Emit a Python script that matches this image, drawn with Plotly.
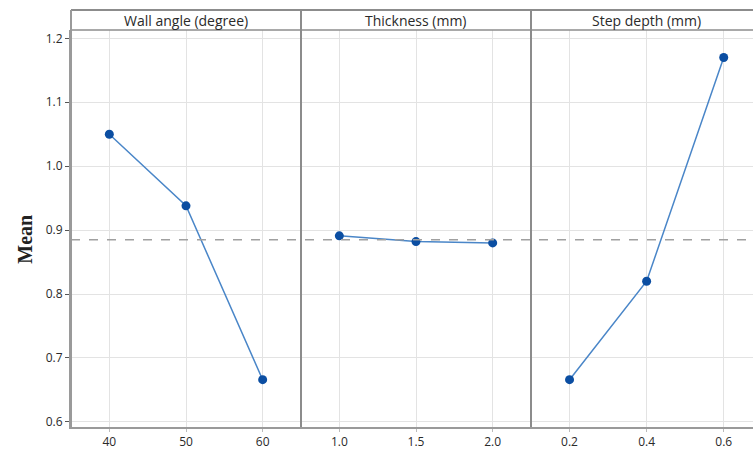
import plotly.graph_objects as go
from plotly.subplots import make_subplots

# Data
factors = ["Wall angle (degree)", "Thickness (mm)", "Step depth (mm)"]
wall_levels = [40, 50, 60]
wall_means = [1.050, 0.938, 0.666]
thick_levels = [1.0, 1.5, 2.0]
thick_means = [0.891, 0.882, 0.880]
step_levels = [0.2, 0.4, 0.6]
step_means = [0.666, 0.820, 1.170]
overall_mean = 0.885
y_ticks = [0.6, 0.7, 0.8, 0.9, 1.0, 1.1, 1.2]

levels = [wall_levels, thick_levels, step_levels]
means = [wall_means, thick_means, step_means]
x_ranges = [[35, 65], [0.75, 2.25], [0.1, 0.676]]
tick_fmt = ["d", ".1f", ".1f"]

W, H = 753, 452
ML, MR, MT, MB = 71, 0, 30, 25
plot_w = W - ML - MR
plot_h = H - MT - MB
b1 = 230 / plot_w
b2 = 460 / plot_w
YR = [0.592, 1.213]

fig = make_subplots(rows=1, cols=3, shared_yaxes=True, horizontal_spacing=0)

tick_font = dict(family="Open Sans, Noto Sans, sans-serif", size=12, color="#2a2a2a")
for i in range(3):
    fig.add_trace(go.Scatter(
        x=levels[i], y=means[i], mode="lines+markers",
        line=dict(color="#4a86c8", width=1.5),
        marker=dict(color="#0b4ea2", size=9),
        showlegend=False, hoverinfo="x+y"), row=1, col=i + 1)

domains = [[0, b1], [b1, b2], [b2, 1]]
for i in range(3):
    ax = "xaxis" if i == 0 else f"xaxis{i+1}"
    fig.layout[ax].update(
        domain=domains[i], range=x_ranges[i], tickvals=levels[i],
        tickformat=tick_fmt[i], showgrid=True, gridcolor="#e3e3e3", gridwidth=1,
        zeroline=False, showline=True, linecolor="#9a9a9a", linewidth=1.5,
        ticks="outside", ticklen=3, tickcolor="#bbbbbb", tickfont=tick_font,
        automargin=False)
    ay = "yaxis" if i == 0 else f"yaxis{i+1}"
    fig.layout[ay].update(
        range=YR, tickvals=y_ticks, tickformat=".1f",
        showgrid=True, gridcolor="#e3e3e3", gridwidth=1, zeroline=False,
        automargin=False)

fig.update_yaxes(showline=True, linecolor="#9a9a9a", linewidth=2,
                 ticks="outside", ticklen=4, tickcolor="#555555",
                 tickfont=tick_font, row=1, col=1)

hdr = 1 + 20 / plot_h
shapes = []
# mean reference line
shapes.append(dict(type="line", xref="paper", yref="y", x0=0, x1=1,
                   y0=overall_mean, y1=overall_mean,
                   line=dict(color="#a0a0a0", width=1.5, dash="dash")))
# header frame
shapes.append(dict(type="line", xref="paper", yref="paper", x0=0, x1=1, y0=1, y1=1,
                   line=dict(color="#8c8c8c", width=1.5)))
shapes.append(dict(type="line", xref="paper", yref="paper", x0=0, x1=1, y0=hdr, y1=hdr,
                   line=dict(color="#8c8c8c", width=2)))
shapes.append(dict(type="line", xref="paper", yref="paper", x0=0, x1=0, y0=0, y1=hdr,
                   line=dict(color="#9a9a9a", width=2)))
for xb in [b1, b2]:
    shapes.append(dict(type="line", xref="paper", yref="paper", x0=xb, x1=xb, y0=0, y1=hdr,
                       line=dict(color="#8c8c8c", width=2)))

annotations = []
centers = [domains[i][0] + 115 / plot_w for i in range(3)]
for i in range(3):
    annotations.append(dict(text=factors[i], xref="paper", yref="paper",
                            x=centers[i], y=(1 + hdr) / 2, showarrow=False,
                            xanchor="center", yanchor="middle",
                            font=dict(family="Open Sans, Noto Sans, sans-serif", size=14, color="#2a2a2a")))
annotations.append(dict(text="<b>Mean</b>", xref="paper", yref="paper",
                        x=-46 / plot_w, y=(overall_mean - YR[0]) / (YR[1] - YR[0]),
                        showarrow=False, textangle=-90, xanchor="center", yanchor="middle",
                        font=dict(family="Liberation Serif, Times New Roman, serif", size=20, color="#222222")))

fig.update_layout(width=W, height=H, margin=dict(l=ML, r=MR, t=MT, b=MB),
                  paper_bgcolor="white", plot_bgcolor="white",
                  shapes=shapes, annotations=annotations)

fig.write_html("out.html", config={"displayModeBar": False},
               post_script="document.body.style.margin='0';document.body.style.overflow='hidden';")
